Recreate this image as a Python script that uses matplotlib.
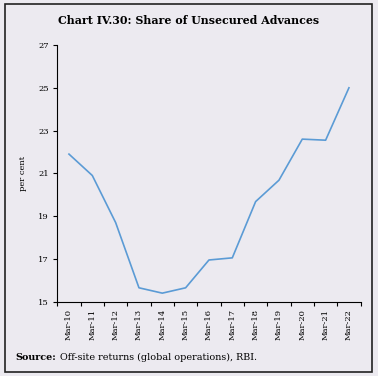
import matplotlib
matplotlib.use("Agg")
import matplotlib.pyplot as plt
from matplotlib.patches import Rectangle

# Data
years = ["Mar-10", "Mar-11", "Mar-12", "Mar-13", "Mar-14", "Mar-15", "Mar-16",
         "Mar-17", "Mar-18", "Mar-19", "Mar-20", "Mar-21", "Mar-22"]
share = [21.9, 20.9, 18.7, 15.65, 15.4, 15.65, 16.95,
         17.05, 19.68, 20.68, 22.6, 22.55, 25.0]
y_ticks = [15, 17, 19, 21, 23, 25, 27]

bg = "#ECEAF0"
line_col = "#5B9BD5"
serif = ["DejaVu Serif"]

fig = plt.figure(figsize=(3.78, 3.76), dpi=100, facecolor=bg)
ax = fig.add_axes([0.1516, 0.1976, 0.8024, 0.6827])
ax.set_facecolor(bg)

x = list(range(len(years)))
ax.plot(x, share, color=line_col, linewidth=1.2)

ax.set_xlim(-0.5, len(years) - 0.5)
ax.set_ylim(15, 27)
ax.set_yticks(y_ticks)
ax.set_yticklabels([str(t) for t in y_ticks], fontsize=6, family=serif)

# category axis: ticks between categories, labels at centres
ax.set_xticks([i - 0.5 for i in range(len(years) + 1)])
ax.set_xticklabels([])
ax.set_xticks(x, minor=True)
ax.set_xticklabels(years, minor=True, rotation=90, fontsize=6, family=serif)
ax.tick_params(axis="x", which="minor", length=0, pad=5)
ax.tick_params(axis="x", which="major", length=3, width=0.8, direction="out")
ax.tick_params(axis="y", length=3, width=0.8, direction="out", pad=3)

for side in ("top", "right"):
    ax.spines[side].set_visible(False)
for side in ("left", "bottom"):
    ax.spines[side].set_linewidth(0.8)
    ax.spines[side].set_color("black")

ax.set_ylabel("per cent", fontsize=6, family=serif, labelpad=8)

fig.text(0.5, 0.945, "Chart IV.30: Share of Unsecured Advances",
         ha="center", va="center", fontsize=7.9, fontweight="bold", family=serif)

fig.text(0.04, 0.05, "Source:", ha="left", va="center", fontsize=6.9,
         fontweight="bold", family=serif)
fig.text(0.04 + 0.12, 0.05, "Off-site returns (global operations), RBI.",
         ha="left", va="center", fontsize=6.9, family=serif)

# outer border
fig.patches.append(Rectangle((5 / 378, 4 / 376), 367 / 378, 368 / 376,
                             transform=fig.transFigure, fill=False,
                             edgecolor="#222222", linewidth=1.2))

fig.savefig("out.png", dpi=100, facecolor=bg)
